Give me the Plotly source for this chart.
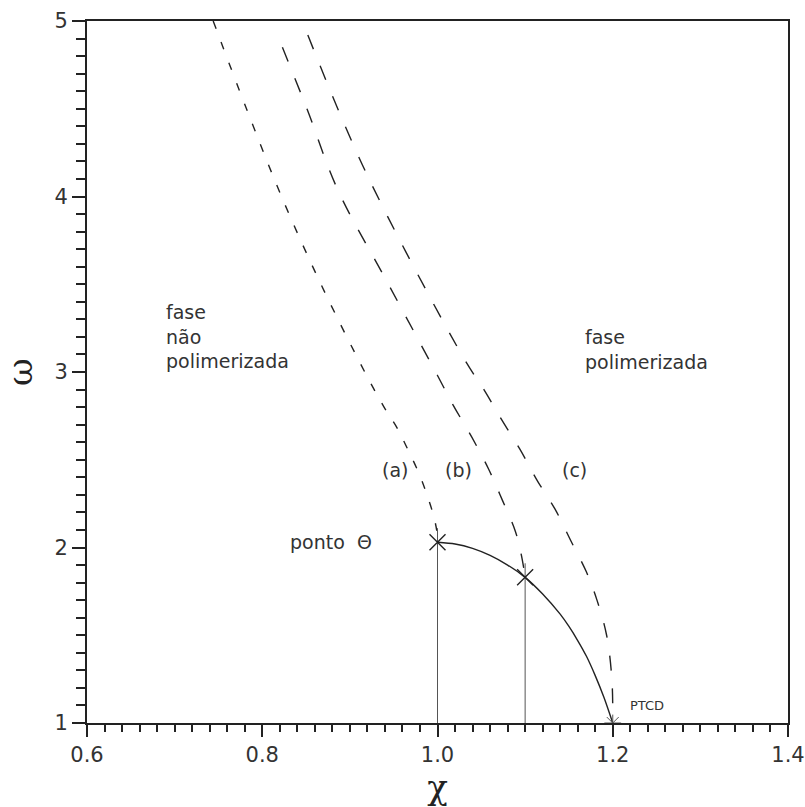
import plotly.graph_objects as go

# Phase boundary: solid line from the theta point down to the PTCD
solid_chi = [1.00, 1.02, 1.04, 1.06, 1.08, 1.10, 1.12, 1.14, 1.15, 1.16, 1.17, 1.18, 1.19, 1.20]
solid_omega = [2.03, 2.02, 1.995, 1.955, 1.90, 1.83, 1.735, 1.62, 1.55, 1.47, 1.38, 1.27, 1.145, 1.00]

# Dashed curves (a), (b), (c)
curve_a_omega = [5.00, 4.50, 4.00, 3.50, 3.00, 2.80, 2.68, 2.56, 2.42, 2.30, 2.19, 2.10, 2.03]
curve_a_chi = [0.744, 0.782, 0.822, 0.867, 0.917, 0.939, 0.954, 0.966, 0.979, 0.988, 0.995, 0.999, 1.000]

curve_b_omega = [4.85, 4.50, 4.04, 3.50, 2.98, 2.81, 2.63, 2.45, 2.27, 2.09, 1.95, 1.83]
curve_b_chi = [0.823, 0.851, 0.886, 0.944, 1.000, 1.018, 1.039, 1.058, 1.074, 1.089, 1.096, 1.100]

curve_c_omega = [4.92, 4.13, 3.07, 2.90, 2.73, 2.56, 2.38, 2.22, 2.04, 1.86, 1.70, 1.50, 1.25, 1.02]
curve_c_chi = [0.852, 0.919, 1.031, 1.053, 1.073, 1.094, 1.114, 1.134, 1.152, 1.170, 1.182, 1.193, 1.199, 1.200]

# Special points
theta_point = (1.00, 2.03)
b_end_point = (1.10, 1.83)
ptcd_point = (1.20, 1.00)

x_range = [0.6, 1.4]
y_range = [1, 5]
x_major, x_minor = 0.2, 0.02
y_major, y_minor = 1.0, 0.1

INK = "#222222"
FONT = "DejaVu Sans"

fig = go.Figure()

fig.add_trace(go.Scatter(x=solid_chi, y=solid_omega, mode="lines",
                         line=dict(color=INK, width=1.4, shape="spline", smoothing=0.8),
                         hoverinfo="skip"))

fig.add_trace(go.Scatter(x=curve_a_chi, y=curve_a_omega, mode="lines",
                         line=dict(color=INK, width=1.4, dash="8px,14px", shape="spline"),
                         hoverinfo="skip"))
fig.add_trace(go.Scatter(x=curve_b_chi, y=curve_b_omega, mode="lines",
                         line=dict(color=INK, width=1.4, dash="15px,18px", shape="spline"),
                         hoverinfo="skip"))
fig.add_trace(go.Scatter(x=curve_c_chi, y=curve_c_omega, mode="lines",
                         line=dict(color=INK, width=1.4, dash="15px,18px", shape="spline"),
                         hoverinfo="skip"))

# Drop lines from the two marked points to the chi axis
y_floor = y_range[0]
for px, py in (theta_point, b_end_point):
    fig.add_trace(go.Scatter(x=[px, px], y=[y_floor, py + 0.08], mode="lines",
                             line=dict(color="#555555", width=1.0), hoverinfo="skip"))

fig.add_trace(go.Scatter(x=[theta_point[0], b_end_point[0]], y=[theta_point[1], b_end_point[1]],
                         mode="markers",
                         marker=dict(symbol="x-thin", size=16, line=dict(color=INK, width=1.4)),
                         hoverinfo="skip"))
fig.add_trace(go.Scatter(x=[ptcd_point[0]], y=[ptcd_point[1]], mode="markers",
                         marker=dict(symbol="asterisk", size=14, line=dict(color="#555555", width=1.0)),
                         hoverinfo="skip"))

text_font = dict(family=FONT, size=19, color="#333333")
annotations = [
    dict(x=0.688, y=3.205, text="fase<br>não<br>polimerizada", xanchor="left", yanchor="middle", align="left"),
    dict(x=1.166, y=3.13, text="fase<br>polimerizada", xanchor="left", yanchor="middle", align="left"),
    dict(x=0.951, y=2.44, text="(a)", xanchor="center", yanchor="middle"),
    dict(x=1.024, y=2.44, text="(b)", xanchor="center", yanchor="middle"),
    dict(x=1.156, y=2.44, text="(c)", xanchor="center", yanchor="middle"),
    dict(x=0.927, y=2.03, text="ponto  Θ", xanchor="right", yanchor="middle"),
]
for a in annotations:
    a.update(showarrow=False, font=text_font, xref="x", yref="y")
    fig.add_annotation(**a)
fig.add_annotation(x=1.217, y=1.10, text="PTCD", showarrow=False, xanchor="left", yanchor="middle",
                   font=dict(family=FONT, size=13, color="#333333"))

fig.update_layout(
    width=805, height=807,
    margin=dict(l=87, r=17, t=21, b=84),
    paper_bgcolor="white", plot_bgcolor="white",
    showlegend=False,
    font=dict(family=FONT, color="#333333"),
    xaxis=dict(
        range=x_range, tickmode="linear", tick0=x_range[0], dtick=x_major, tickformat=".1f",
        ticks="outside", ticklen=12, tickwidth=2, tickcolor=INK,
        minor=dict(tickmode="linear", tick0=x_range[0], dtick=x_minor,
                   ticks="outside", ticklen=7, tickwidth=1.6, tickcolor=INK, showgrid=False),
        showline=True, linecolor=INK, linewidth=1.8, mirror=True,
        showgrid=False, zeroline=False, automargin=False,
        tickfont=dict(family=FONT, size=21, color="#333333"),
        title=dict(text="χ", font=dict(family="DejaVu Serif", size=34, color="#222222"), standoff=10),
    ),
    yaxis=dict(
        range=y_range, tickmode="linear", tick0=y_range[0], dtick=y_major,
        ticks="outside", ticklen=13, tickwidth=2, tickcolor=INK,
        minor=dict(dtick=y_minor, ticks="outside", ticklen=9, tickwidth=2, tickcolor=INK, showgrid=False),
        showline=True, linecolor=INK, linewidth=1.8, mirror=True,
        showgrid=False, zeroline=False, automargin=False,
        tickfont=dict(family=FONT, size=21, color="#333333"),
        title=dict(text="ω", font=dict(family="DejaVu Serif", size=34, color="#222222"), standoff=14),
    ),
)

fig.write_html("out.html")
